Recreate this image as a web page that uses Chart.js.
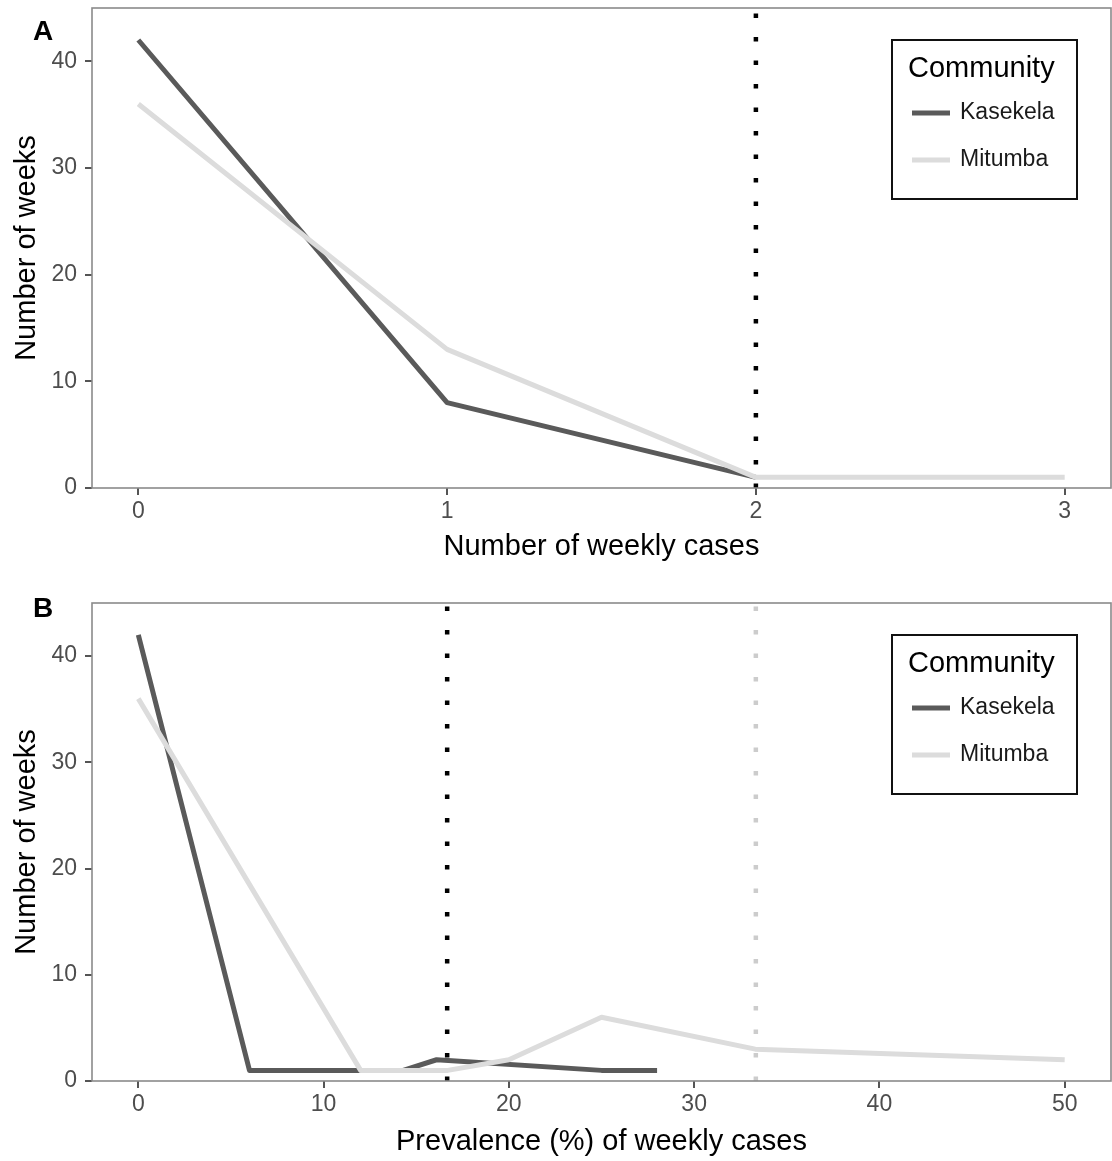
<!DOCTYPE html>
<html><head><meta charset="utf-8">
<script src="https://cdn.jsdelivr.net/npm/chart.js@4.4.0/dist/chart.umd.min.js"></script>
<style>
html,body{margin:0;padding:0;background:#fff;}
#wrap{position:relative;width:1112px;height:1161px;background:#fff;}
.c{position:absolute;left:0;width:1112px;}
canvas{display:block;}
</style></head><body>
<div id="wrap">
<div class="c" style="top:0;height:580px"><canvas id="cA" width="1112" height="580"></canvas></div>
<div class="c" style="top:580px;height:581px"><canvas id="cB" width="1112" height="581"></canvas></div>
</div>
<script>
// ---- Data ----
const seriesNames = ['Kasekela', 'Mitumba'];
// Panel A: number of weekly cases
const casesKasekelaX = [0, 1, 2];
const casesKasekelaY = [42, 8, 1];
const casesMitumbaX = [0, 1, 2, 3];
const casesMitumbaY = [36, 13, 1, 1];
const thresholdA = [2];
const xTicksA = [0, 1, 2, 3];
const yTicksA = [0, 10, 20, 30, 40];
// Panel B: prevalence (%) of weekly cases
const prevKasekelaX = [0, 6, 12, 14.3, 16.1, 25, 28];
const prevKasekelaY = [42, 1, 1, 1, 2, 1, 1];
const prevMitumbaX = [0, 12, 16.7, 20, 25, 33.3, 50];
const prevMitumbaY = [36, 1, 1, 2, 6, 3, 2];
const thresholdB = [16.67, 33.33];
const xTicksB = [0, 10, 20, 30, 40, 50];
const yTicksB = [0, 10, 20, 30, 40];

// ---- Styles ----
const FONT = "'Liberation Sans', Arial, Helvetica, sans-serif";
const colKas = '#5a5a5a';
const colMit = '#dcdcdc';
const thrColorsA = ['#000000'];
const thrColorsB = ['#000000', '#cccccc'];
const tickColor = '#4d4d4d';

function pts(xs, ys) { return xs.map((x, i) => ({x: x, y: ys[i]})); }

const panelPlugin = {
  id: 'panel',
  afterDraw(chart, args, opts) {
    const ctx = chart.ctx, a = chart.chartArea;
    ctx.save();
    // panel border
    ctx.strokeStyle = '#8a8a8a';
    ctx.lineWidth = 1.6;
    ctx.strokeRect(a.left, a.top, a.right - a.left, a.bottom - a.top);
    // panel letter
    ctx.fillStyle = '#000';
    ctx.font = 'bold 28px ' + FONT;
    ctx.textBaseline = 'alphabetic';
    ctx.textAlign = 'left';
    ctx.fillText(opts.letter, 33, opts.letterY);
    // legend
    const bx = a.right - 219, by = a.top + 32, bw = 185, bh = 159;
    ctx.fillStyle = '#fff';
    ctx.fillRect(bx, by, bw, bh);
    ctx.strokeStyle = '#111';
    ctx.lineWidth = 2;
    ctx.strokeRect(bx, by, bw, bh);
    ctx.fillStyle = '#000';
    ctx.font = '29px ' + FONT;
    ctx.textBaseline = 'middle';
    ctx.fillText('Community', bx + 16, by + 29);
    const items = chart.data.datasets.filter(d => d.inLegend).sort((p, q) => p.legendIndex - q.legendIndex);
    items.forEach((d, i) => {
      const yy = by + 73 + i * 47;
      ctx.strokeStyle = d.borderColor;
      ctx.lineWidth = 5;
      ctx.lineCap = 'butt';
      ctx.beginPath();
      ctx.moveTo(bx + 20, yy);
      ctx.lineTo(bx + 58, yy);
      ctx.stroke();
      ctx.fillStyle = '#1a1a1a';
      ctx.font = '23px ' + FONT;
      ctx.fillText(d.label, bx + 68, yy);
    });
    ctx.restore();
  }
};

function build(id, o) {
  const datasets = [];
  o.thresholds.forEach((t, i) => {
    datasets.push({
      label: 'thr' + i, data: [{x: t, y: 0}, {x: t, y: o.yMax}],
      borderColor: o.thrColors[i], borderWidth: 4.5, borderDash: [4.5, 19],
      borderCapStyle: 'butt', pointRadius: 0, order: 0, inLegend: false
    });
  });
  datasets.push({
    label: seriesNames[1], data: o.mit, borderColor: colMit, borderWidth: 5,
    borderJoinStyle: 'round', borderCapStyle: 'butt', pointRadius: 0, order: 1,
    inLegend: true, legendIndex: 1
  });
  datasets.push({
    label: seriesNames[0], data: o.kas, borderColor: colKas, borderWidth: 5,
    borderJoinStyle: 'round', borderCapStyle: 'butt', pointRadius: 0, order: 2,
    inLegend: true, legendIndex: 0
  });
  const canvas = document.getElementById(id);
  new Chart(canvas.getContext('2d'), {
    type: 'line',
    data: {datasets: datasets},
    plugins: [panelPlugin],
    options: {
      responsive: false, animation: false, devicePixelRatio: 1,
      layout: {padding: {top: o.padTop, right: 1, left: 0, bottom: 0}},
      plugins: {legend: {display: false}, tooltip: {enabled: false},
        panel: {letter: o.letter, letterY: o.letterY}},
      elements: {line: {tension: 0}},
      scales: {
        x: {
          type: 'linear', min: o.xMin, max: o.xMax,
          afterBuildTicks: s => { s.ticks = o.xTicks.map(v => ({value: v})); },
          afterFit: s => { s.height = o.xHeight; s.paddingLeft = 0; s.paddingRight = 0; },
          ticks: {font: {family: FONT, size: 23}, color: tickColor, padding: 3,
            callback: v => String(v)},
          grid: {drawOnChartArea: false, drawTicks: true, tickLength: 7,
            tickColor: '#555', tickWidth: 2, lineWidth: 2},
          border: {display: false},
          title: {display: true, text: o.xTitle, color: '#000',
            font: {family: FONT, size: 29}, padding: {top: 0, bottom: o.xTitlePad}}
        },
        y: {
          type: 'linear', min: 0, max: o.yMax,
          afterBuildTicks: s => { s.ticks = o.yTicks.map(v => ({value: v})); },
          afterFit: s => { s.width = 92; s.paddingTop = 0; s.paddingBottom = 0; },
          ticks: {font: {family: FONT, size: 23}, color: tickColor, padding: 8,
            callback: v => String(v)},
          grid: {drawOnChartArea: false, drawTicks: true, tickLength: 7,
            tickColor: '#555', tickWidth: 2, lineWidth: 2},
          border: {display: false},
          title: {display: true, text: 'Number of weeks', color: '#000',
            font: {family: FONT, size: 29}, padding: {top: 10, bottom: 0}}
        }
      }
    }
  });
}

build('cA', {
  kas: pts(casesKasekelaX, casesKasekelaY), mit: pts(casesMitumbaX, casesMitumbaY),
  thresholds: thresholdA, thrColors: thrColorsA,
  xMin: -0.15, xMax: 3.15, yMax: 45, xTicks: xTicksA, yTicks: yTicksA,
  xTitle: 'Number of weekly cases', padTop: 8, xHeight: 92, xTitlePad: 16,
  letter: 'A', letterY: 40
});
build('cB', {
  kas: pts(prevKasekelaX, prevKasekelaY), mit: pts(prevMitumbaX, prevMitumbaY),
  thresholds: thresholdB, thrColors: thrColorsB,
  xMin: -2.5, xMax: 52.5, yMax: 45, xTicks: xTicksB, yTicks: yTicksB,
  xTitle: 'Prevalence (%) of weekly cases', padTop: 23, xHeight: 80, xTitlePad: 2,
  letter: 'B', letterY: 37
});
</script>
</body></html>
